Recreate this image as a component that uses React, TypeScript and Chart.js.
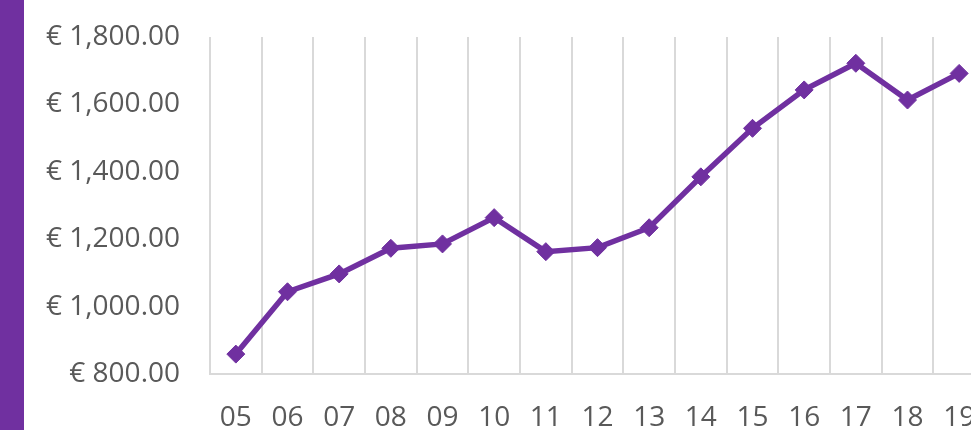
import React, { useEffect, useRef } from "react";
import { Chart, registerables } from "chart.js";

Chart.register(...registerables);

const categories = ["05", "06", "07", "08", "09", "10", "11", "12", "13", "14", "15", "16", "17", "18", "19"];
const values = [859, 1044, 1097, 1173, 1186, 1264, 1163, 1175, 1234, 1385, 1529, 1643, 1722, 1613, 1692];
const yMin = 800;
const yMax = 1800;
const yStep = 200;

const PURPLE = "#7030a0";
const GRID = "#d9d9d9";
const TEXT = "#595959";
const FONT = "'Open Sans', sans-serif";

function fmt(v: number): string {
  return "€ " + v.toLocaleString("en-US", { minimumFractionDigits: 2, maximumFractionDigits: 2 });
}

export default function App() {
  const ref = useRef<HTMLCanvasElement | null>(null);
  useEffect(() => {
    if (!ref.current) return;
    const chart = new Chart(ref.current, {
      type: "line",
      data: {
        labels: categories,
        datasets: [
          {
            data: values,
            borderColor: PURPLE,
            backgroundColor: PURPLE,
            borderWidth: 5.5,
            pointStyle: "rectRot",
            pointRadius: 9,
            pointBorderWidth: 1,
            pointBackgroundColor: PURPLE,
            pointBorderColor: PURPLE,
            tension: 0,
          },
        ],
      },
      options: {
        animation: false,
        responsive: true,
        maintainAspectRatio: false,
        layout: { padding: { top: 37, right: 0, left: 0, bottom: 0 } },
        plugins: { legend: { display: false }, tooltip: { enabled: false } },
        scales: {
          x: {
            offset: true,
            grid: {
              display: true,
              offset: true,
              color: GRID,
              lineWidth: 2,
              drawTicks: true,
              tickLength: 27,
              tickColor: "rgba(0,0,0,0)",
            },
            border: { display: true, color: GRID, width: 2 },
            ticks: { color: TEXT, font: { family: FONT, size: 28 }, padding: 0, maxRotation: 0, autoSkip: false },
            afterFit: (s: any) => {
              s.height = 56;
            },
          },
          y: {
            min: yMin,
            max: yMax,
            grid: { display: false, drawTicks: true, tickLength: 30 },
            border: { display: false },
            ticks: {
              stepSize: yStep,
              color: TEXT,
              font: { family: FONT, size: 28 },
              padding: 0,
              callback: (v: any) => fmt(Number(v)),
            },
            afterFit: (s: any) => {
              s.width = 210;
            },
          },
        },
      },
    });
    return () => chart.destroy();
  }, []);
  return (
    <div style={{ position: "fixed", left: 0, top: 0, width: 971, height: 430, overflow: "hidden", background: "#fff" }}>
      <div style={{ position: "absolute", left: 0, top: 0, width: 995, height: 430 }}>
        <canvas ref={ref} />
      </div>
      <div style={{ position: "absolute", left: 0, top: 0, width: 24, height: 430, background: PURPLE }} />
    </div>
  );
}
